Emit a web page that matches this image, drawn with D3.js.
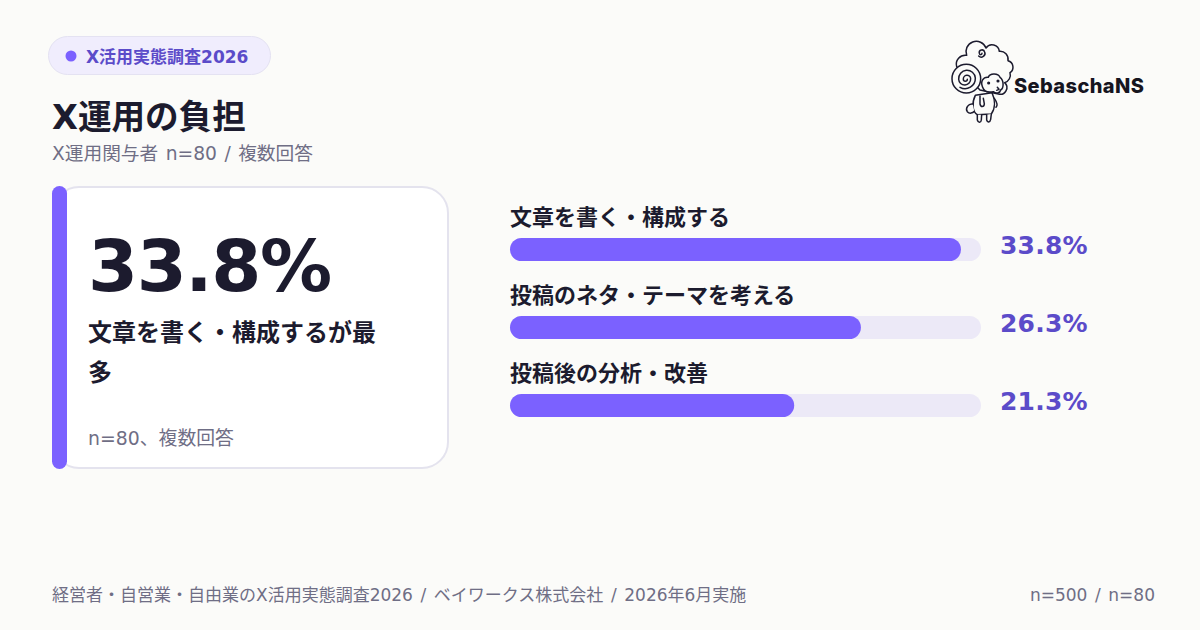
<!DOCTYPE html>
<html>
<head>
<meta charset="utf-8">
<script src="https://cdn.jsdelivr.net/npm/d3@7"></script>
<style>
  html, body { margin: 0; padding: 0; background: #fbfbf9; }
  svg { display: block; }
  text { font-family: "DejaVu Sans", "Noto Sans CJK JP", sans-serif; }
</style>
</head>
<body>
<div id="chart"></div>
<script>
//The values
var categories = ["文章を書く・構成する", "投稿のネタ・テーマを考える", "投稿後の分析・改善"];
var values = [33.8, 26.3, 21.3];
var scaleMax = 35.3;

var badgeText = "X活用実態調査2026";
var titleText = "X運用の負担";
var subtitleText = "X運用関与者 n=80 / 複数回答";
var bigNumber = "33.8%";
var bigLabelLines = ["文章を書く・構成するが最", "多"];
var cardNote = "n=80、複数回答";
var footerLeft = "経営者・自営業・自由業のX活用実態調査2026 / ベイワークス株式会社 / 2026年6月実施";
var footerRight = "n=500 / n=80";
var logoText = "SebaschaNS";

var pageColor = "#fbfbf9", dark = "#1c1b2e", purple = "#7b61ff", deepPurple = "#5b4bc9", grey = "#6f6e85";

var width = 1200, height = 630;

var svg = d3.select("#chart")
    .append("svg")
    .attr("width", width)
    .attr("height", height);

svg.append("rect")
    .attr("width", width)
    .attr("height", height)
    .attr("fill", pageColor);

//The badge top left
svg.append("rect")
    .attr("x", 48.5).attr("y", 36.5)
    .attr("width", 222).attr("height", 38)
    .attr("rx", 19)
    .attr("fill", "#f0edfd")
    .attr("stroke", "#e4e2f2");

svg.append("circle")
    .attr("cx", 71).attr("cy", 56).attr("r", 5.5)
    .attr("fill", purple);

svg.append("text")
    .attr("x", 86).attr("y", 63)
    .attr("font-size", 17).attr("font-weight", 700)
    .attr("fill", deepPurple)
    .text(badgeText);

//Title and subtitle
svg.append("text")
    .attr("x", 52).attr("y", 129)
    .attr("font-size", 33.6).attr("font-weight", 700)
    .attr("fill", dark)
    .text(titleText);

svg.append("text")
    .attr("x", 52).attr("y", 160)
    .attr("font-size", 18.7)
    .attr("word-spacing", 1.5)
    .attr("fill", grey)
    .text(subtitleText);

//The card on the left
svg.append("rect")
    .attr("x", 53).attr("y", 187)
    .attr("width", 395).attr("height", 281)
    .attr("rx", 26)
    .attr("fill", "#ffffff")
    .attr("stroke", "#e4e3ee")
    .attr("stroke-width", 2);

svg.append("rect")
    .attr("x", 52).attr("y", 186)
    .attr("width", 15).attr("height", 283)
    .attr("rx", 7.5)
    .attr("fill", purple);

svg.append("text")
    .attr("x", 88).attr("y", 291)
    .attr("font-size", 72).attr("font-weight", 700)
    .attr("letter-spacing", -1.44)
    .attr("fill", dark)
    .text(bigNumber);

svg.selectAll(".big-label")
    .data(bigLabelLines)
    .enter()
    .append("text")
    .attr("class", "big-label")
    .attr("x", 88)
    .attr("y", function (d, i) { return 341 + i * 40; })
    .attr("font-size", 24).attr("font-weight", 700)
    .attr("fill", dark)
    .text(function (d) { return d; });

svg.append("text")
    .attr("x", 88).attr("y", 445)
    .attr("font-size", 18.85)
    .attr("fill", grey)
    .text(cardNote);

//The bars on the right
var x = d3.scaleLinear().domain([0, scaleMax]).range([0, 471]);
var y = d3.scalePoint().domain(categories).range([238, 394]);
var barHeight = 23;

var rows = svg.selectAll(".row")
    .data(categories)
    .enter()
    .append("g")
    .attr("class", "row")
    .attr("transform", function (d) { return "translate(510," + y(d) + ")"; });

rows.append("text")
    .attr("y", -13)
    .attr("font-size", 22).attr("font-weight", 700)
    .attr("fill", dark)
    .text(function (d) { return d; });

rows.append("rect")
    .attr("width", x(scaleMax))
    .attr("height", barHeight)
    .attr("rx", barHeight / 2)
    .attr("fill", "#ece9f7");

rows.append("rect")
    .attr("width", function (d, i) { return x(values[i]); })
    .attr("height", barHeight)
    .attr("rx", barHeight / 2)
    .attr("fill", purple);

rows.append("text")
    .attr("x", 490)
    .attr("y", 15.5)
    .attr("font-size", 25).attr("font-weight", 700)
    .attr("letter-spacing", 0.2)
    .attr("fill", deepPurple)
    .text(function (d, i) { return values[i].toFixed(1) + "%"; });

//Footer
svg.append("text")
    .attr("x", 52).attr("y", 601)
    .attr("font-size", 17)
    .attr("word-spacing", 2.2)
    .attr("fill", grey)
    .text(footerLeft);

svg.append("text")
    .attr("x", 1155).attr("y", 601)
    .attr("text-anchor", "end")
    .attr("font-size", 17)
    .attr("word-spacing", 2.2)
    .attr("fill", grey)
    .text(footerRight);

//The sheep logo, drawn by hand in 3x coordinates
var logo = svg.append("g")
    .attr("transform", "translate(930,30) scale(0.3333)")
    .attr("fill", pageColor)
    .attr("stroke", dark)
    .attr("stroke-width", 4.5)
    .attr("stroke-linecap", "round")
    .attr("stroke-linejoin", "round");

// wool
logo.append("path")
    .attr("d", "M80 110 A27 27 0 0 1 110 76 A27 27 0 0 1 168 54 A22 22 0 0 1 208 64 A24 24 0 0 1 234 92 A20 20 0 0 1 240 128 A24 24 0 0 1 224 158 A20 20 0 0 1 205 192 L150 180 Z");
// horn spiral
logo.append("circle").attr("cx", 109).attr("cy", 146).attr("r", 43);
logo.append("path")
    .attr("fill", "none")
    .attr("d", "M112 148 A6 6 0 0 1 100 148 A11 11 0 0 1 122 146 A18 18 0 0 1 86 148 A25 25 0 0 1 136 144 A31 31 0 0 1 90 172");
// small curl on top
logo.append("path")
    .attr("fill", "none")
    .attr("d", "M156 70 A4 4 0 0 1 148 70 A8 8 0 0 1 164 66 A11 11 0 0 1 146 78");
// body
logo.append("path")
    .attr("d", "M136 196 C124 220 128 246 142 254 L184 252 C196 235 196 210 186 188 Z");
// tail
logo.append("path")
    .attr("d", "M128 222 C115 220 105 235 112 245 C118 252 128 250 133 244");
// legs
logo.append("path")
    .attr("d", "M142 254 L142 270 C145 280 153 278 154 270 L155 254");
logo.append("path")
    .attr("d", "M170 254 L170 270 C172 278 180 278 182 268 L184 252");
// arms
logo.append("path")
    .attr("fill", "none")
    .attr("d", "M150 198 L150 222 C152 232 162 232 163 222 L160 205");
logo.append("path")
    .attr("fill", "none")
    .attr("d", "M193 205 C200 215 205 225 198 232");
// head
logo.append("path")
    .attr("d", "M158 172 C150 155 160 140 175 142 C180 128 205 130 210 142 C222 150 222 175 212 180 C210 190 198 192 190 185 C175 188 162 185 158 172 Z");
logo.append("circle").attr("cx", 176).attr("cy", 159).attr("r", 2.5).attr("fill", dark);
logo.append("circle").attr("cx", 204).attr("cy", 153).attr("r", 2.5).attr("fill", dark);
logo.append("path")
    .attr("fill", "none")
    .attr("d", "M202 172 L207 178 L200 181");

svg.append("text")
    .attr("x", 1014).attr("y", 92.5)
    .attr("font-size", 20).attr("font-weight", 800)
    .attr("letter-spacing", 0.4)
    .attr("fill", "#16151f")
    .style("font-family", "Inter, sans-serif")
    .text(logoText);
</script>
</body>
</html>
